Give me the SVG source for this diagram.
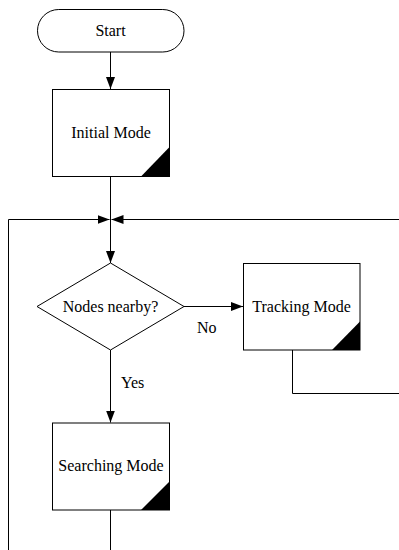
<svg xmlns="http://www.w3.org/2000/svg" width="399" height="550" viewBox="0 0 399 550">
  <style>
    .shape { fill: #fff; stroke: #000; stroke-width: 1; }
    .corner { fill: #000; stroke: none; }
    .label { font-family: "Liberation Serif", "Times New Roman", serif; font-size: 16px; fill: #000; }
    .conn { fill: none; stroke: #000; stroke-width: 1; }
  </style>
  <defs>
    <marker id="arrow" markerWidth="12" markerHeight="9" refX="12" refY="4.5" orient="auto" markerUnits="userSpaceOnUse">
      <path d="M0,0 L12,4.5 L0,9 Z" fill="#000"/>
    </marker>
  </defs>

  <g id="connectors">
    <line class="conn" x1="110.5" y1="52" x2="110.5" y2="89" marker-end="url(#arrow)"/>
    <line class="conn" x1="110.5" y1="176" x2="110.5" y2="263" marker-end="url(#arrow)"/>
    <polyline class="conn" points="8.5,550 8.5,219.5 109.5,219.5" marker-end="url(#arrow)"/>
    <polyline class="conn" points="292.5,350 292.5,393.5 399,393.5"/>
    <line class="conn" x1="399" y1="219.5" x2="111.5" y2="219.5" marker-end="url(#arrow)"/>
    <line class="conn" x1="184" y1="306.5" x2="243" y2="306.5" marker-end="url(#arrow)"/>
    <line class="conn" x1="110.5" y1="350" x2="110.5" y2="422.5" marker-end="url(#arrow)"/>
    <line class="conn" x1="110.5" y1="510" x2="110.5" y2="550"/>
    <text class="label" x="197" y="333">No</text>
    <text class="label" x="121" y="388">Yes</text>
  </g>

  <g id="start">
    <rect class="shape" x="37.5" y="9.5" width="146.5" height="42.5" rx="21.25" ry="21.25"/>
    <text class="label" x="110.5" y="36" text-anchor="middle">Start</text>
  </g>

  <g id="initial-mode">
    <rect class="shape" x="52.5" y="89.5" width="117" height="87"/>
    <polygon class="corner" points="141,176.5 169.5,147 169.5,176.5"/>
    <text class="label" x="111" y="138" text-anchor="middle">Initial Mode</text>
  </g>

  <g id="nodes-nearby">
    <polygon class="shape" points="110.5,263 184,306.5 110.5,350 37,306.5"/>
    <text class="label" x="110.5" y="312" text-anchor="middle">Nodes nearby?</text>
  </g>

  <g id="tracking-mode">
    <rect class="shape" x="243.5" y="263.5" width="116.5" height="86.5"/>
    <polygon class="corner" points="332,350 360,321.5 360,350"/>
    <text class="label" x="301.5" y="312" text-anchor="middle">Tracking Mode</text>
  </g>

  <g id="searching-mode">
    <rect class="shape" x="52.5" y="423" width="117" height="87"/>
    <polygon class="corner" points="141,510 169.5,481.5 169.5,510"/>
    <text class="label" x="111" y="471" text-anchor="middle">Searching Mode</text>
  </g>
</svg>
